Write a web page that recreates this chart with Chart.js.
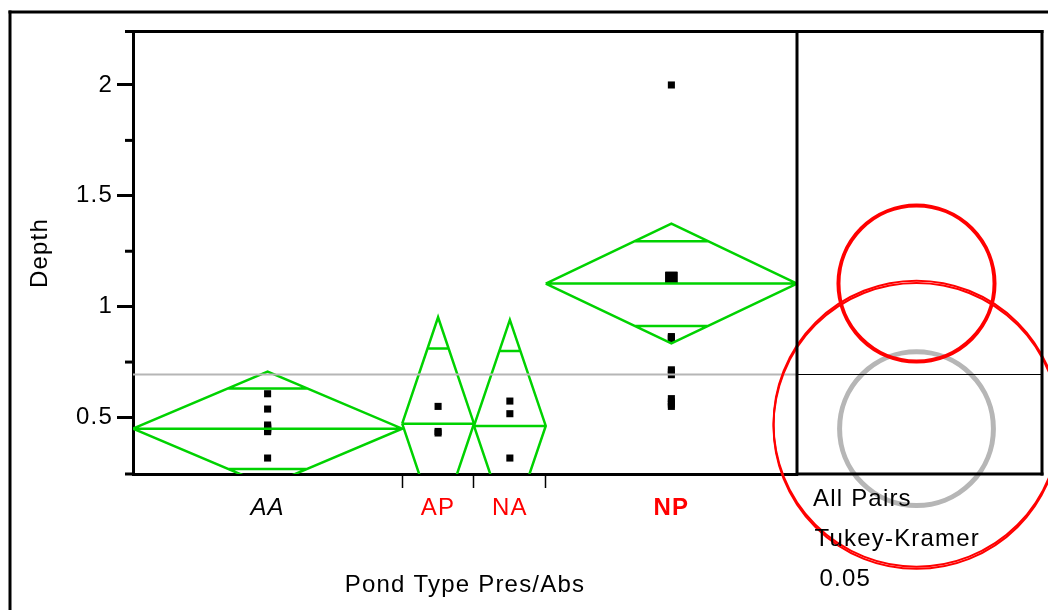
<!DOCTYPE html>
<html>
<head>
<meta charset="utf-8">
<script src="https://cdn.jsdelivr.net/npm/chart.js@4.4.1/dist/chart.umd.min.js"></script>
<style>
  html, body { margin: 0; padding: 0; background: #fff; }
  canvas { display: block; }
</style>
</head>
<body>
<canvas id="chart" width="1048" height="610"></canvas>
<script>
// Depth by pond type: one-way means diamonds with Tukey-Kramer comparison circles

const groups = ['AA', 'AP', 'NA', 'NP'];
const groupSize = [15, 4, 4, 14];

const depthAA = [0.607, 0.538, 0.466, 0.46, 0.455, 0.45, 0.445, 0.44, 0.436, 0.317];
const depthAP = [0.55, 0.437, 0.43];
const depthNA = [0.574, 0.517, 0.317];
const depthNP = [2.0, 1.13, 1.13, 1.13, 0.865, 0.86, 0.855, 0.715, 0.705, 0.693, 0.585, 0.57, 0.56, 0.55];

const groupMean = [0.4495, 0.472, 0.462, 1.104];
const ci95 = [0.257, 0.48, 0.478, 0.27];
const circleRadius = [0.347, 0.645, 0.645, 0.352];
const grandMean = 0.694;

const yTicks = [0.5, 1, 1.5, 2];
const yMinorTicks = [0.75, 1.25, 1.75];
const yRange = [0.245, 2.239];

const testLines = ['All Pairs', 'Tukey-Kramer', '0.05'];

// ---- derived layout of the categorical axis (band width follows group size) ----
const edges = [0];
groupSize.forEach(n => edges.push(edges[edges.length - 1] + n));
const centers = groupSize.map((n, i) => edges[i] + n / 2);
const innerEdges = edges.slice(1, -1);

const FONT = '"Liberation Sans", Arial, Helvetica, sans-serif';
const GREEN = 'rgb(0,210,0)';
const RED = '#ff0000';
const GREY = 'rgb(182,182,182)';
const SPACING = '1.2px';

const labelColor = ['#000000', RED, RED, RED];
const labelStyle = ['italic', 'normal', 'normal', 'normal'];
const labelWeight = ['normal', 'normal', 'normal', 'bold'];
const circleStyle = [
  { color: GREY, width: 5 },
  { color: RED, width: 2 },
  { color: RED, width: 2 },
  { color: RED, width: 4 }
];

const groupIndex = ctx => (ctx && ctx.tick ? centers.indexOf(ctx.tick.value) : -1);

// one line dataset per group: diamond outline, mean line and the two overlap marks
const diamondSets = groups.map((g, i) => {
  const x0 = edges[i], x1 = edges[i + 1], xc = centers[i];
  const m = groupMean[i], c = ci95[i], k = Math.SQRT1_2;
  const h = (x1 - x0) / 2 * (1 - k);
  return {
    label: g + ' diamond',
    showLine: true,
    data: [
      { x: x0, y: m }, { x: xc, y: m + c }, { x: x1, y: m }, { x: xc, y: m - c }, { x: x0, y: m },
      { x: x0, y: null },
      { x: x0, y: m }, { x: x1, y: m },
      { x: x1, y: null },
      { x: xc - h, y: m + c * k }, { x: xc + h, y: m + c * k },
      { x: xc + h, y: null },
      { x: xc - h, y: m - c * k }, { x: xc + h, y: m - c * k }
    ],
    borderColor: GREEN,
    borderWidth: 2.5,
    pointRadius: 0,
    fill: false,
    spanGaps: false,
    tension: 0
  };
});

const pointData = [];
[depthAA, depthAP, depthNA, depthNP].forEach((arr, i) => {
  arr.forEach(v => pointData.push({ x: centers[i], y: v, n: arr.filter(w => w === v).length }));
});

const framePlugin = {
  id: 'frame',
  beforeDraw(chart) {
    chart.ctx.letterSpacing = SPACING;
  },
  afterDraw(chart) {
    const { ctx, chartArea: a, scales: { y } } = chart;
    const seg = (x1, y1, x2, y2, w, col) => {
      ctx.beginPath();
      ctx.lineWidth = w;
      ctx.strokeStyle = col || '#000';
      ctx.moveTo(x1, y1);
      ctx.lineTo(x2, y2);
      ctx.stroke();
    };
    ctx.save();
    ctx.lineCap = 'butt';

    // outer report frame
    seg(10, 10.5, 10, 610, 3);
    seg(8.5, 12, 1048, 12, 3);

    // plot frame pieces around the axes
    const panelL = a.right, panelR = 1042;
    seg(a.left - 8, a.top - 0.5, panelR + 1.5, a.top - 0.5, 3);
    seg(a.left - 8, a.bottom, a.left, a.bottom, 3);
    yMinorTicks.forEach(v => {
      const py = y.getPixelForValue(v);
      seg(a.left - 8, py, a.left, py, 3);
    });

    // comparison circles
    const cx = (panelL + panelR) / 2 - 3;
    [0, 1, 2, 3].forEach(i => {
      const cy = y.getPixelForValue(groupMean[i]);
      const r = cy - y.getPixelForValue(groupMean[i] + circleRadius[i]);
      ctx.beginPath();
      ctx.lineWidth = circleStyle[i].width;
      ctx.strokeStyle = circleStyle[i].color;
      ctx.arc(cx, cy, r, 0, Math.PI * 2);
      ctx.stroke();
    });

    // circle panel frame and grand mean reference
    const gm = Math.round(y.getPixelForValue(grandMean)) + 0.5;
    seg(panelL + 0.5, gm, panelR, gm, 1);
    seg(panelL, a.top - 2, panelL, a.bottom + 1.5, 3);
    seg(panelR, a.top - 2, panelR, a.bottom + 1.5, 3);
    seg(panelL, a.bottom, panelR + 1.5, a.bottom, 3);

    // test description
    ctx.fillStyle = '#000';
    ctx.font = '24px ' + FONT;
    ctx.letterSpacing = SPACING;
    ctx.textAlign = 'left';
    ctx.textBaseline = 'alphabetic';
    ctx.fillText(testLines[0], 813, 506);
    ctx.fillText(testLines[1], 814.5, 546);
    ctx.fillText(testLines[2], 819.5, 586);
    ctx.restore();
  }
};

new Chart(document.getElementById('chart'), {
  type: 'scatter',
  data: {
    datasets: [
      {
        label: 'grand mean',
        showLine: true,
        data: [{ x: edges[0], y: grandMean }, { x: edges[edges.length - 1], y: grandMean }],
        borderColor: GREY,
        borderWidth: 2,
        pointRadius: 0
      },
      ...diamondSets,
      {
        label: 'Depth',
        data: pointData,
        pointStyle: 'rect',
        backgroundColor: '#000',
        borderWidth: 0,
        pointRadius: ctx => (ctx.raw && ctx.raw.n >= 3 ? 8.5 : 5)
      }
    ]
  },
  options: {
    responsive: false,
    devicePixelRatio: 1,
    animation: false,
    events: [],
    layout: { padding: { left: 0, right: 251, top: 32, bottom: 0 } },
    plugins: { legend: { display: false }, tooltip: { enabled: false } },
    scales: {
      x: {
        type: 'linear',
        min: edges[0],
        max: edges[edges.length - 1],
        afterBuildTicks(scale) {
          scale.ticks = centers.concat(innerEdges).sort((a, b) => a - b).map(v => ({ value: v }));
        },
        afterFit(scale) { scale.height = 136; },
        ticks: {
          autoSkip: false,
          maxRotation: 0,
          padding: 6,
          callback: v => { const i = centers.indexOf(v); return i >= 0 ? groups[i] : ''; },
          color: ctx => { const i = groupIndex(ctx); return i >= 0 ? labelColor[i] : '#000'; },
          font: ctx => {
            const i = groupIndex(ctx);
            return { family: FONT, size: 24, style: i >= 0 ? labelStyle[i] : 'normal', weight: i >= 0 ? labelWeight[i] : 'normal' };
          }
        },
        grid: {
          display: true,
          drawOnChartArea: false,
          drawTicks: true,
          tickLength: 14,
          tickWidth: 1.5,
          tickColor: ctx => (ctx && ctx.tick && innerEdges.includes(ctx.tick.value) ? '#000' : 'rgba(0,0,0,0)')
        },
        border: { display: true, color: '#000', width: 3 },
        title: {
          display: true,
          text: 'Pond Type Pres/Abs',
          color: '#000',
          font: { family: FONT, size: 24 },
          padding: { top: 0, bottom: 10 }
        }
      },
      y: {
        type: 'linear',
        min: yRange[0],
        max: yRange[1],
        afterBuildTicks(scale) { scale.ticks = yTicks.map(v => ({ value: v })); },
        afterFit(scale) { scale.width = 133; },
        ticks: {
          color: '#000',
          font: { family: FONT, size: 24 },
          padding: 4,
          callback: v => String(v)
        },
        grid: {
          display: true,
          drawOnChartArea: false,
          drawTicks: true,
          tickLength: 16,
          tickWidth: 3,
          tickColor: '#000'
        },
        border: { display: true, color: '#000', width: 3 },
        title: {
          display: true,
          text: 'Depth',
          color: '#000',
          font: { family: FONT, size: 24 },
          padding: { top: 26, bottom: 0 }
        }
      }
    }
  },
  plugins: [framePlugin]
});
</script>
</body>
</html>
